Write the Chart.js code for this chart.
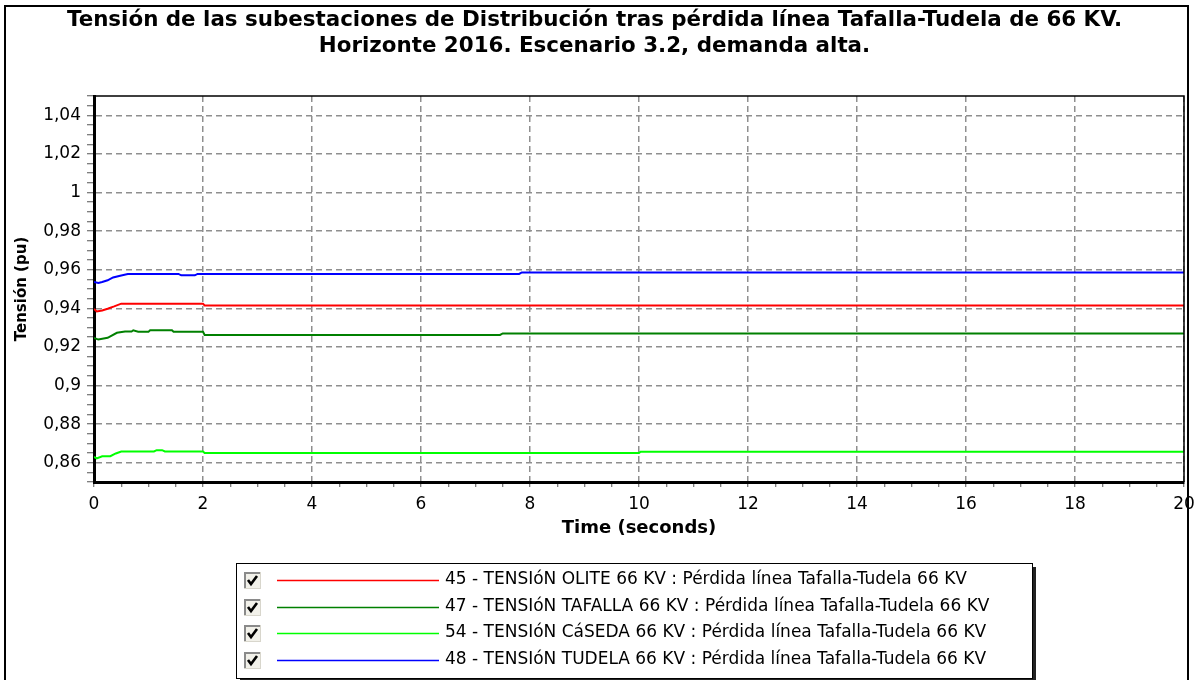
<!DOCTYPE html>
<html>
<head>
<meta charset="utf-8">
<title>Tensión subestaciones de Distribución</title>
<script src="https://cdn.jsdelivr.net/npm/chart.js@4.4.0/dist/chart.umd.min.js"></script>
<style>
  html, body { margin: 0; padding: 0; background: #fff; }
  #voltageChart { display: block; }
</style>
</head>
<body>
<canvas id="voltageChart" width="1199" height="680"></canvas>
<script>
// Breakpoints of each voltage trace: time (s) and voltage (pu)
const oliteTime = [0, 0.05, 0.15, 0.25, 0.37, 0.5, 2.0, 2.03, 20];
const oliteVolt = [0.9397, 0.9384, 0.9389, 0.9398, 0.9410, 0.9424, 0.9424, 0.9415, 0.9415];

const tafallaTime = [0, 0.08, 0.25, 0.3, 0.42, 0.57, 0.69, 0.72, 0.81, 1.0, 1.03, 1.43, 1.46, 2.0, 2.03, 7.45, 7.5, 20];
const tafallaVolt = [0.9247, 0.9238, 0.9247, 0.9255, 0.9273, 0.9280, 0.9280, 0.9286, 0.9279, 0.9279, 0.9286, 0.9286, 0.9278, 0.9278, 0.9262, 0.9262, 0.9270, 0.9270];

const casedaTime = [0, 0.05, 0.15, 0.3, 0.4, 0.5, 1.1, 1.15, 1.25, 1.3, 2.0, 2.03, 10.0, 10.03, 20];
const casedaVolt = [0.8630, 0.8622, 0.8633, 0.8634, 0.8648, 0.8658, 0.8658, 0.8665, 0.8665, 0.8658, 0.8658, 0.8650, 0.8650, 0.8657, 0.8657];

const tudelaTime = [0, 0.08, 0.15, 0.25, 0.35, 0.5, 0.62, 1.55, 1.6, 1.85, 1.9, 7.8, 7.85, 20];
const tudelaVolt = [0.9536, 0.9531, 0.9536, 0.9545, 0.9560, 0.9570, 0.9578, 0.9578, 0.9571, 0.9571, 0.9578, 0.9578, 0.9586, 0.9586];

const seriesLabels = [
    '45 - TENSIóN OLITE 66 KV : Pérdida línea Tafalla-Tudela 66 KV',
    '47 - TENSIóN TAFALLA 66 KV : Pérdida línea Tafalla-Tudela 66 KV',
    '54 - TENSIóN CáSEDA 66 KV : Pérdida línea Tafalla-Tudela 66 KV',
    '48 - TENSIóN TUDELA 66 KV : Pérdida línea Tafalla-Tudela 66 KV'
];
const seriesColors = ['#ff0000', '#008000', '#00ff00', '#0000ff'];

// Axis ticks: labelled (major) values and the minor step between tick marks
const xMajorTicks = [0, 2, 4, 6, 8, 10, 12, 14, 16, 18, 20];
const yMajorTicks = [0.86, 0.88, 0.9, 0.92, 0.94, 0.96, 0.98, 1, 1.02, 1.04];
const xRange = [0, 20];
const yRange = [0.85, 1.05];
const xMinorStep = 0.5;
const yMinorStep = 0.005;

function toPoints(times, volts) {
    return times.map((t, i) => ({ x: t, y: volts[i] }));
}

function minorTicks(range, step) {
    const ticks = [];
    const n = Math.round((range[1] - range[0]) / step);
    for (let i = 0; i <= n; i++) {
        ticks.push({ value: Math.round((range[0] + i * step) * 1e6) / 1e6 });
    }
    return ticks;
}

function isMajor(value, majors) {
    return majors.some(m => Math.abs(m - value) < 1e-6);
}

// White background, outer frame and top/right edges of the plot area
const framePlugin = {
    id: 'frame',
    beforeDraw(chart) {
        const ctx = chart.ctx;
        ctx.save();
        ctx.fillStyle = '#fff';
        ctx.fillRect(0, 0, chart.width, chart.height);
        ctx.strokeStyle = '#000';
        ctx.lineWidth = 2;
        ctx.strokeRect(5, 6, 1183, 700);
        ctx.restore();
    },
    afterDraw(chart) {
        const { ctx, chartArea } = chart;
        ctx.save();
        ctx.strokeStyle = '#000';
        ctx.lineWidth = 1.5;
        ctx.beginPath();
        ctx.moveTo(chartArea.left, chartArea.top);
        ctx.lineTo(chartArea.right, chartArea.top);
        ctx.lineTo(chartArea.right, chartArea.bottom);
        ctx.stroke();
        ctx.restore();
    }
};

// Boxed legend with check boxes under the x axis
const checkLegendPlugin = {
    id: 'checkLegend',
    afterDraw(chart) {
        const ctx = chart.ctx;
        const box = { x: 236, y: 563, w: 796, h: 115 };
        ctx.save();
        ctx.fillStyle = '#222';
        ctx.fillRect(box.x + 4, box.y + 4, box.w, box.h);
        ctx.fillStyle = '#fff';
        ctx.fillRect(box.x, box.y, box.w, box.h);
        ctx.strokeStyle = '#000';
        ctx.lineWidth = 1;
        ctx.strokeRect(box.x + 0.5, box.y + 0.5, box.w, box.h);

        chart.data.datasets.forEach((ds, i) => {
            const cy = Math.round(box.y + 17 + i * 26.7);
            // check box
            const bx = 244, by = cy - 8, bs = 17;
            ctx.fillStyle = '#f2f1ea';
            ctx.fillRect(bx, by, bs, bs);
            ctx.fillStyle = '#8a8a8a';
            ctx.fillRect(bx, by, bs, 2);
            ctx.fillRect(bx, by, 2, bs);
            ctx.fillStyle = '#d8d6cc';
            ctx.fillRect(bx, by + bs - 1, bs, 1);
            ctx.fillRect(bx + bs - 1, by, 1, bs);
            ctx.strokeStyle = '#000';
            ctx.lineWidth = 2.6;
            ctx.beginPath();
            ctx.moveTo(bx + 4, by + 8);
            ctx.lineTo(bx + 7, by + 12);
            ctx.lineTo(bx + 13, by + 4);
            ctx.stroke();
            // line sample
            ctx.strokeStyle = ds.borderColor;
            ctx.lineWidth = 1.5;
            ctx.beginPath();
            ctx.moveTo(277, cy + 0.5);
            ctx.lineTo(439, cy + 0.5);
            ctx.stroke();
            // label
            ctx.fillStyle = '#000';
            ctx.font = '17px "DejaVu Sans"';
            ctx.textBaseline = 'middle';
            ctx.textAlign = 'left';
            ctx.fillText(ds.label, 445, cy);
        });
        ctx.restore();
    }
};

Chart.defaults.font.family = '"DejaVu Sans", sans-serif';
Chart.defaults.color = '#000';

const seriesTimes = [oliteTime, tafallaTime, casedaTime, tudelaTime];
const seriesVolts = [oliteVolt, tafallaVolt, casedaVolt, tudelaVolt];

const ctx = document.getElementById('voltageChart').getContext('2d');
const voltageChart = new Chart(ctx, {
    type: 'line',
    data: {
        datasets: seriesLabels.map((label, i) => ({
            label: label,
            data: toPoints(seriesTimes[i], seriesVolts[i]),
            borderColor: seriesColors[i],
            backgroundColor: seriesColors[i],
            borderWidth: 2,
            pointRadius: 0,
            tension: 0,
            fill: false
        }))
    },
    options: {
        responsive: false,
        animation: false,
        events: [],
        layout: {
            padding: { left: 5, right: 15, top: 5, bottom: 138 }
        },
        plugins: {
            legend: { display: false },
            tooltip: { enabled: false },
            title: {
                display: true,
                text: [
                    'Tensión de las subestaciones de Distribución tras pérdida línea Tafalla-Tudela de 66 KV.',
                    'Horizonte 2016. Escenario 3.2, demanda alta.'
                ],
                color: '#000',
                font: { size: 21.4, weight: 'bold', lineHeight: '26px' },
                padding: { top: 2, bottom: 37 }
            }
        },
        scales: {
            x: {
                type: 'linear',
                min: xRange[0],
                max: xRange[1],
                afterBuildTicks: axis => { axis.ticks = minorTicks(xRange, xMinorStep); },
                afterFit: axis => {
                    axis.height = 60;
                    // let the end labels hang over the side paddings
                    axis.paddingLeft = 0;
                    axis.paddingRight = 0;
                },
                ticks: {
                    autoSkip: false,
                    maxRotation: 0,
                    padding: 7,
                    font: { size: 17 },
                    callback: value => isMajor(value, xMajorTicks) ? String(value) : ''
                },
                grid: {
                    color: c => (c.tick && isMajor(c.tick.value, xMajorTicks)) ? '#8f8f8f' : 'rgba(0,0,0,0)',
                    lineWidth: 1.5,
                    tickColor: '#555',
                    tickLength: 5,
                    tickWidth: 1
                },
                border: { display: true, color: '#000', width: 3, dash: [6, 4] },
                title: {
                    display: true,
                    text: 'Time (seconds)',
                    font: { size: 18, weight: 'bold' },
                    padding: { top: 0, bottom: 3 }
                }
            },
            y: {
                type: 'linear',
                min: yRange[0],
                max: yRange[1],
                afterBuildTicks: axis => { axis.ticks = minorTicks(yRange, yMinorStep); },
                afterFit: axis => { axis.width = 89; },
                ticks: {
                    autoSkip: false,
                    padding: 6,
                    font: { size: 17 },
                    callback: value => isMajor(value, yMajorTicks) ? String(value).replace('.', ',') : ''
                },
                grid: {
                    color: c => (c.tick && isMajor(c.tick.value, yMajorTicks)) ? '#8f8f8f' : 'rgba(0,0,0,0)',
                    lineWidth: 1.5,
                    tickColor: '#555',
                    tickLength: 7,
                    tickWidth: 1
                },
                border: { display: true, color: '#000', width: 3, dash: [6, 4] },
                title: {
                    display: true,
                    text: 'Tensión (pu)',
                    font: { size: 15, weight: 'bold' },
                    padding: { top: 8, bottom: 0 }
                }
            }
        }
    },
    plugins: [framePlugin, checkLegendPlugin]
});
</script>
</body>
</html>
